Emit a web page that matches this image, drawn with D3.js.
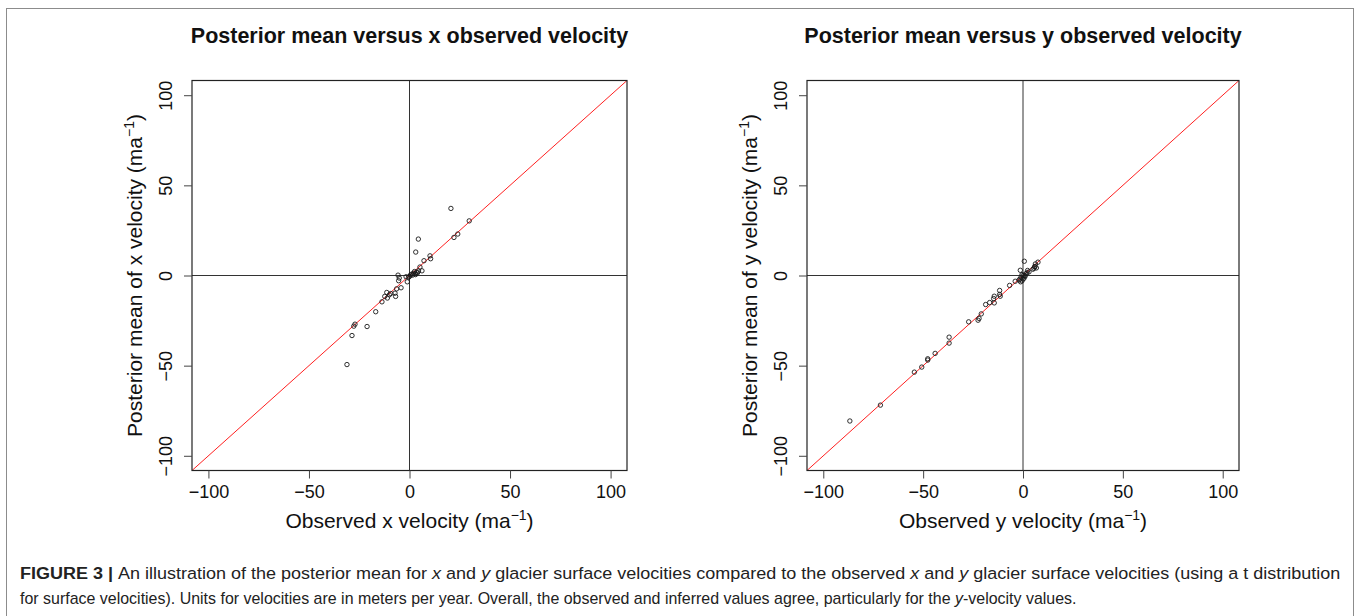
<!DOCTYPE html>
<html>
<head>
<meta charset="utf-8">
<script src="https://cdn.jsdelivr.net/npm/d3@7"></script>
<style>
  body { margin: 0; background: #fff; }
  svg { display: block; font-family: "Liberation Sans", Arial, Helvetica, sans-serif; }
</style>
</head>
<body>
<div id="chart"></div>
<script>
// observed vs posterior mean, x velocity (ma^-1)
const obsX = [20.6, 29.7, 24.0, 22.1, 4.4, 3.1, 10.2, 10.5, 7.2, 5.2, 6.2, -5.7, -5.1, -5.4, -1.7, -1.1,
  -4.2, -6.4, -7.2, -9.3, -11.3, -12.3, -11.0, -10.0, -6.9, -13.7, -16.8, -27.1, -27.7, -21.1, -28.6, -31.1,
  0.5, 1.2, 2.0, 2.8, 3.5, 4.0, 0.0, 1.5, 2.5, -0.5, 3.0, 4.5];
const postX = [37.2, 30.3, 23.0, 21.1, 20.2, 13.0, 10.9, 9.3, 8.2, 4.7, 2.6, 0.2, -1.4, -2.9, -0.7, -3.5,
  -6.8, -7.4, -9.8, -10.0, -9.4, -11.6, -12.5, -10.7, -11.6, -14.6, -20.1, -27.0, -28.1, -28.3, -33.3, -49.4,
  0.3, 0.8, 1.2, 1.0, 1.8, 1.5, -0.5, 0.2, 2.2, -1.0, 0.5, 2.5];

// observed vs posterior mean, y velocity
const obsY = [0.65, -1.35, 2.3, 6.2, 7.5, 6.7, 5.8, -1.2, -3.9, -6.7, -11.7, -11.7, -11.4, -14.4, -14.7, -16.7,
  -14.4, -18.7, -20.9, -22.0, -22.5, -27.2, -37.0, -37.0, -44.0, -47.7, -47.7, -50.7, -54.4, -71.4, -86.7,
  -1.0, 0.0, 1.0, -0.5, 1.5, -1.5, 0.5, 2.0, -2.0, 0.0, 1.0, -0.5, 3.0, 5.0, 5.5, 6.0];
const postY = [7.9, 2.9, 2.8, 6.4, 7.4, 4.2, 4.8, -3.5, -3.2, -5.5, -8.3, -10.5, -11.5, -11.5, -12.8, -15.0,
  -15.2, -16.1, -21.3, -23.8, -24.8, -25.7, -34.2, -37.5, -43.2, -46.2, -46.9, -50.8, -53.6, -71.9, -80.7,
  -1.0, -2.0, 0.0, 0.5, 1.0, -2.0, -1.5, 1.5, -2.5, 0.0, -0.5, -3.0, 2.0, 3.5, 4.0, 5.0];

const tickVals = [-100, -50, 0, 50, 100];
const lim = [-108.16, 108.16];

const width = 1360, height = 616;
const svg = d3.select("#chart").append("svg")
  .attr("width", width)
  .attr("height", height);

// figure frame
svg.append("rect")
  .attr("x", 6.5).attr("y", 8.5)
  .attr("width", 1347).attr("height", 620)
  .attr("fill", "none").attr("stroke", "#8c8c8c").attr("stroke-width", 1);

function panel(left, right, top, bottom, obs, post, axis) {
  const x = d3.scaleLinear().domain(lim).range([left, right]);
  const y = d3.scaleLinear().domain(lim).range([bottom, top]);
  const g = svg.append("g");

  g.append("text")
    .attr("x", (left + right) / 2).attr("y", 43)
    .attr("text-anchor", "middle")
    .attr("font-weight", "bold").attr("font-size", 21.5)
    .attr("fill", "#111")
    .text(`Posterior mean versus ${axis} observed velocity`);

  // zero reference lines
  g.append("line").attr("x1", x(0)).attr("x2", x(0)).attr("y1", top).attr("y2", bottom)
    .attr("stroke", "#333").attr("stroke-width", 1);
  g.append("line").attr("x1", left).attr("x2", right).attr("y1", y(0)).attr("y2", y(0))
    .attr("stroke", "#333").attr("stroke-width", 1);

  // y = x
  g.append("line").attr("x1", x(lim[0])).attr("y1", y(lim[0]))
    .attr("x2", x(lim[1])).attr("y2", y(lim[1]))
    .attr("stroke", "#ff2020").attr("stroke-width", 1);

  g.append("g").selectAll("circle")
    .data(d3.zip(obs, post))
    .join("circle")
    .attr("cx", d => x(d[0]))
    .attr("cy", d => y(d[1]))
    .attr("r", 2.2)
    .attr("fill", "none")
    .attr("stroke", "#1a1a1a")
    .attr("stroke-width", 0.9);

  g.append("rect")
    .attr("x", left).attr("y", top)
    .attr("width", right - left).attr("height", bottom - top)
    .attr("fill", "none").attr("stroke", "#222").attr("stroke-width", 1.2);

  const fmt = v => v < 0 ? "\u2212" + Math.abs(v) : String(v);

  const xa = g.append("g").attr("transform", `translate(0,${bottom})`)
    .call(d3.axisBottom(x).tickValues(tickVals).tickSize(8).tickFormat(fmt));
  xa.select(".domain").remove();
  xa.selectAll("line").attr("stroke", "#444");
  xa.selectAll("text").attr("font-size", 18).attr("font-family", "Liberation Sans, Arial, sans-serif")
    .attr("fill", "#111").attr("y", 11).attr("dy", "0.9em");

  const ya = g.append("g").attr("transform", `translate(${left},0)`)
    .call(d3.axisLeft(y).tickValues(tickVals).tickSize(8).tickFormat(fmt));
  ya.select(".domain").remove();
  ya.selectAll("line").attr("stroke", "#444");
  ya.selectAll("text")
    .attr("font-size", 18).attr("font-family", "Liberation Sans, Arial, sans-serif")
    .attr("fill", "#111")
    .attr("x", null).attr("dy", null)
    .attr("text-anchor", "middle")
    .attr("transform", "translate(-20,0) rotate(-90)");

  const xl = g.append("text")
    .attr("x", (left + right) / 2).attr("y", 528)
    .attr("text-anchor", "middle").attr("font-size", 21).attr("fill", "#111");
  xl.append("tspan").text(`Observed ${axis} velocity (ma`);
  xl.append("tspan").attr("dy", -8).attr("font-size", 14).text("\u22121");
  xl.append("tspan").attr("dy", 8).text(")");

  const yl = g.append("text")
    .attr("transform", `translate(${left - 50},${(top + bottom) / 2}) rotate(-90)`)
    .attr("text-anchor", "middle").attr("font-size", 21).attr("fill", "#111");
  yl.append("tspan").text(`Posterior mean of ${axis} velocity (ma`);
  yl.append("tspan").attr("dy", -8).attr("font-size", 14).text("\u22121");
  yl.append("tspan").attr("dy", 8).text(")");
}

panel(192, 627, 80.5, 470.5, obsX, postX, "x");
panel(807, 1239, 80.5, 470.5, obsY, postY, "y");

// caption: pieces of [text, style]; squeezed horizontally to the reference widths
const capLine1 = [
  ["FIGURE 3 | ", "b"], ["An illustration of the posterior mean for ", ""], ["x", "i"], [" and ", ""], ["y", "i"],
  [" glacier surface velocities compared to the observed ", ""], ["x", "i"], [" and ", ""], ["y", "i"],
  [" glacier surface velocities (using a t distribution", ""]
];
const capLine2 = [
  ["for surface velocities). Units for velocities are in meters per year. Overall, the observed and inferred values agree, particularly for the ", ""],
  ["y", "i"], ["-velocity values.", ""]
];

function caption(parts, baseY, targetW) {
  const t = svg.append("text")
    .attr("font-size", 17).attr("fill", "#222")
    .attr("font-family", "'Liberation Sans Narrow', 'Liberation Sans', Arial, sans-serif");
  parts.forEach(([s, st]) => {
    t.append("tspan")
      .attr("font-weight", st === "b" ? "bold" : null)
      .attr("font-style", st === "i" ? "italic" : null)
      .text(s);
  });
  const w = t.node().getComputedTextLength();
  t.attr("transform", `translate(20,${baseY}) scale(${targetW / w},1)`);
}
caption(capLine1, 579, 1321);
caption(capLine2, 604, 1057);
</script>
</body>
</html>
